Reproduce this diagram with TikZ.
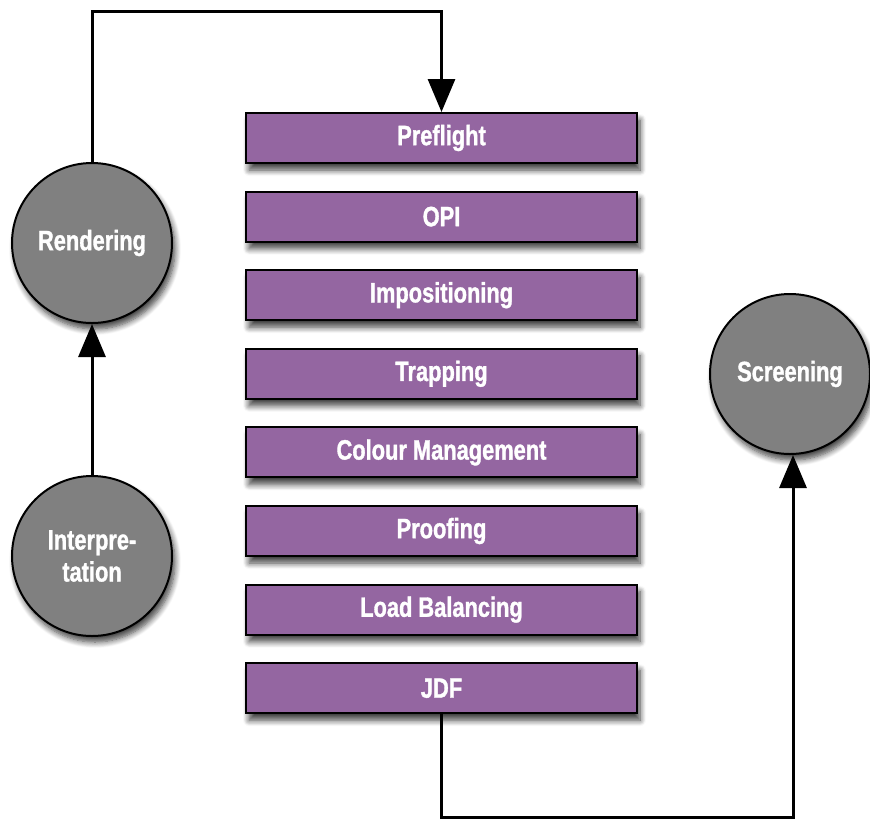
\documentclass[tikz,border=0pt]{standalone}
\usepackage{fontspec}
\usepackage{xcolor}
\usepackage{tikz}
\usetikzlibrary{positioning, shapes, calc, arrows.meta, shadows.blur}
\newfontfamily\stagefont{Liberation Sans}[FakeStretch=0.78, FakeBold=1.2]
\definecolor{stagepurple}{rgb}{0.58, 0.40, 0.63}
\definecolor{stagegrey}{rgb}{0.50, 0.50, 0.50}
\tikzset{
  stagebox/.style={draw=black, line width=2pt, fill=stagepurple, rectangle,
    minimum width=391pt, minimum height=50pt, inner sep=0pt,
    text=white, font=\stagefont\bfseries\fontsize{28}{30}\selectfont,
    blur shadow={shadow xshift=3pt, shadow yshift=-7pt, shadow blur radius=6pt, shadow blur steps=8, shadow opacity=75}},
  rip/.style={draw=black, line width=2pt, fill=stagegrey, circle,
    minimum size=160pt, inner sep=0pt, align=center,
    text=white, font=\stagefont\bfseries\fontsize{28}{32}\selectfont,
    blur shadow={shadow xshift=3pt, shadow yshift=-6pt, shadow blur radius=6pt, shadow blur steps=8, shadow opacity=75}},
  flow/.style={draw=black, line width=3pt, -{Triangle[length=33pt,width=27pt]}},
}

\begin{document}
\begin{tikzpicture}[x=1pt, y=-1pt]
		\useasboundingbox (0,0) rectangle (870,820);
		\pgfmathsetmacro{\boxx}{441.5}
		\pgfmathsetmacro{\boxy}{138}
		\pgfmathsetmacro{\boxstep}{78.6}
		
		% the stages between rendering and screening
		\node[stagebox] (preflight) at (\boxx,\boxy) {Preflight};
		\node[stagebox] (opi) at (\boxx,\boxy+\boxstep) {OPI};
		\node[stagebox] (impos) at (\boxx,\boxy+2*\boxstep) {Impositioning};
		\node[stagebox] (trap) at (\boxx,\boxy+3*\boxstep) {Trapping};
		\node[stagebox] (colour) at (\boxx,\boxy+4*\boxstep) {Colour Management};
		\node[stagebox] (proof) at (\boxx,\boxy+5*\boxstep) {Proofing};
		\node[stagebox] (load) at (\boxx,\boxy+6*\boxstep) {Load Balancing};
		\node[stagebox] (jdf) at (\boxx,\boxy+7*\boxstep) {JDF};
		
		% the RIP steps
		\node[rip] (render) at (92,243) {Rendering};
		\node[rip] (interp) at (92,556) {Interpre-\\tation};
		\node[rip] (screen) at (790,374) {Screening};
		
		\coordinate (topleft) at (92,11);
		\coordinate (botright) at (793,817);
		
		\draw[flow] (interp.north) -- (render.south);
		\draw[flow] (render.north) -- (topleft) -| (preflight.north);
		\draw[flow] (jdf.south) |- (botright) -- (screen.south -| botright);
\end{tikzpicture}
\end{document}
